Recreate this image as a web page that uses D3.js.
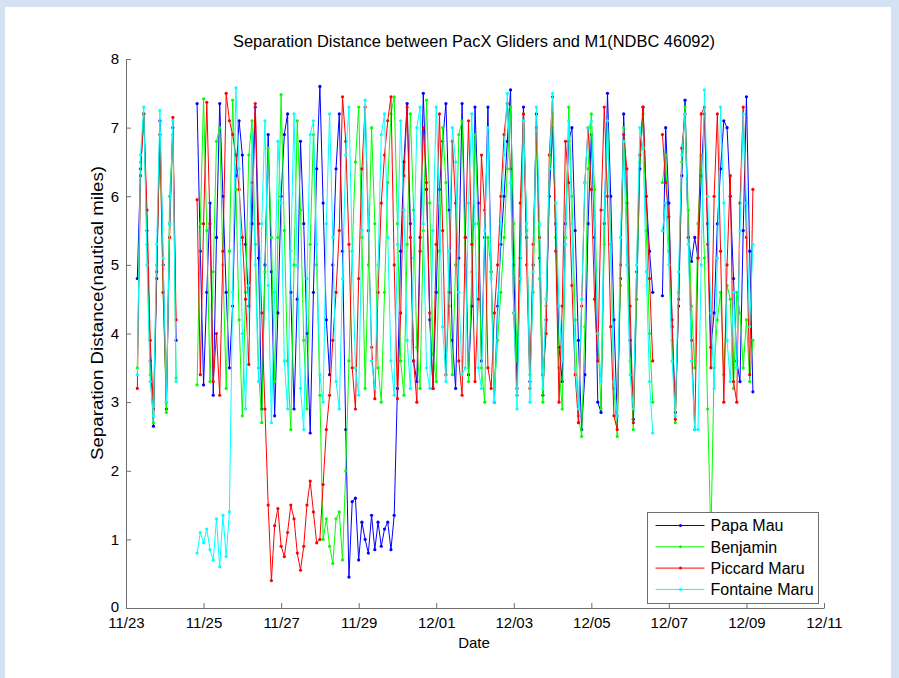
<!DOCTYPE html>
<html lang="en">
<head>
<meta charset="UTF-8" />
<title>Separation Distance between PacX Gliders and M1</title>
<style>
  body {
    margin: 0;
    background: #d4e2f4;
  }
  #chart {
    position: absolute;
    left: 0;
    top: 0;
  }
  text {
    font-family: Arial, 'Liberation Sans', Helvetica, sans-serif;
    fill: #000;
  }
  .axis path, .axis line {
    stroke: #6e6e6e;
  }
</style>
<script src="https://d3js.org/d3.v7.min.js"></script>
</head>
<body>
<div id="chart"></div>
<script>
  // Tick labels (every 2 days) and y ticks
  const dateTicks = ['11/23', '11/25', '11/27', '11/29', '12/01', '12/03', '12/05', '12/07', '12/09', '12/11'];
  const distTicks = [0, 1, 2, 3, 4, 5, 6, 7, 8];

  // Sampling: hours after 11/23 00:00, one reading every 2 hours
  const startA = 7, startB = 44, stepH = 2;

  const names  = ['Papa Mau', 'Benjamin', 'Piccard Maru', 'Fontaine Maru'];
  const colors = ['#0000ff', '#00ff00', '#ff0000', '#00ffff'];

  // first short run (11/23 - 11/24)
  const papaA     = [4.8, 6.4, 7.2, 5.5, 3.6, 2.65, 4.8, 7.1, 5.0, 2.9, 5.6, 7.0, 3.9];
  const benjaminA = [3.5, 6.5, 7.2, 5.3, 3.4, 2.7, 5.0, 6.9, 4.6, 2.85, 6.0, 6.9, 3.35];
  const piccardA  = [3.2, 6.3, 7.2, 5.8, 3.9, 2.9, 4.9, 6.9, 4.6, 3.0, 5.4, 7.15, 4.2];
  const fontaineA = [3.4, 6.6, 7.3, 5.0, 3.3, 2.8, 5.3, 7.25, 5.1, 3.0, 5.6, 7.1, 3.3];

  // main run (11/24 evening - 12/09)
  const papaB = [
    7.35, 5.2, 3.25, 4.6, 5.9, 3.1, 5.4, 7.35, 6.0, 4.6,
    3.5, 4.4, 6.3, 7.1, 6.6, 5.3, 4.4, 5.6, 7.3, 5.1,
    2.9, 5.0, 6.9, 4.9, 2.8, 4.3, 6.0, 6.9, 7.2, 4.6,
    2.9, 4.5, 6.8, 5.6, 4.0, 2.55, 4.6, 6.4, 7.6, 5.9,
    4.2, 3.4, 5.0, 6.4, 7.2, 5.2, 2.6, 0.45, 1.55, 1.6,
    0.7, 1.25, 1.0, 0.8, 1.35, 0.85, 1.25, 0.9, 1.15, 1.25,
    0.85, 1.35, 3.2, 5.2, 6.5, 7.35, 5.6, 3.6, 3.3, 5.4,
    7.5, 6.1, 4.2, 3.2, 4.6, 6.1, 6.8, 7.35, 5.8, 3.9,
    3.2, 5.1, 7.35, 5.4, 3.4, 4.4, 7.3, 5.9, 3.6, 5.4,
    7.3, 4.9, 3.0, 4.4, 5.3, 6.0, 6.8, 7.55, 5.0, 3.2,
    5.1, 7.3, 5.4, 3.3, 5.0, 7.2, 5.1, 3.1, 4.2, 6.0,
    7.0, 5.6, 3.8, 3.3, 5.6, 6.8, 7.0, 5.5, 3.9, 2.6,
    3.4, 5.6, 6.9, 5.4, 3.0, 2.85, 5.6, 7.5, 6.0, 4.2,
    2.8, 4.8, 7.2, 5.9, 3.9, 2.75, 4.5, 6.4, 7.3, 6.0,
    5.2, 4.6, null, null, 4.55, 7.0, 5.9, 4.1, 2.85, 4.4,
    6.3, 7.4, 5.4, 5.05, 5.4, 5.1, 6.3, 7.2, 5.6, 3.8,
    4.3, 5.6, 6.4, 7.1, 7.0, 6.0, 4.8, 3.6, 3.3, 5.5,
    7.45, 5.2, 3.15
  ];
  const benjaminB = [
    3.25, 5.6, 7.42, 5.5, 3.3, 4.9, 6.8, 7.0, 5.0, 3.2,
    5.2, 7.4, 6.1, 4.2, 2.8, 4.6, 6.6, 7.1, 5.3, 3.5,
    2.7, 4.9, 6.7, 5.4, 3.3, 5.4, 7.48, 5.5, 3.6, 2.6,
    5.0, 7.1, 5.8, 3.9, 2.9, 5.3, 6.9, 5.0, 3.1, 1.0,
    1.3, 0.9, 0.65, 1.3, 1.4, 0.7, 2.0, 3.6, 5.2, 6.5,
    7.3, 5.4, 3.2, 5.0, 7.0, 5.6, 3.5, 3.0, 4.6, 6.2,
    7.2, 7.45, 5.6, 3.6, 3.1, 5.3, 7.2, 5.8, 3.8, 3.2,
    5.5, 7.4, 5.9, 3.7, 3.3, 5.2, 7.0, 6.2, 4.4, 3.4,
    5.0, 6.9, 7.1, 5.0, 3.3, 4.9, 6.9, 5.6, 3.5, 3.0,
    5.4, 4.9, 3.2, 3.9, 4.6, 5.4, 6.4, 7.3, 5.6, 3.6,
    4.8, 7.2, 5.5, 3.4, 4.6, 6.9, 4.8, 3.0, 4.4, 6.2,
    7.2, 5.4, 3.5, 2.9, 5.4, 7.3, 6.0, 4.2, 2.8, 2.5,
    4.1, 6.4, 7.2, 6.1, 4.0, 2.9, 5.3, 7.1, 5.3, 3.2,
    2.5, 4.7, 7.0, 5.8, 3.6, 2.6, 4.5, 6.5, 7.2, 5.5,
    4.0, 3.0, null, null, 6.2, 6.6, 5.2, 3.9, 2.7, 4.6,
    6.5, 7.3, 5.8, 4.4, 3.5, 5.6, 6.6, 5.1, 2.9, 1.0,
    3.5, 4.2, 4.6, 3.4, 4.7, 4.5, 3.2, 4.6, 4.3, 3.5,
    4.2, 3.3, 3.9
  ];
  const piccardB = [
    5.95, 3.4, 5.6, 7.37, 5.6, 3.3, 4.0, 3.1, 5.2, 7.5,
    7.1, 6.9, 6.6, 6.1, 5.4, 4.5, 3.55, 6.2, 7.35, 5.6,
    4.3, 2.9, 1.5, 0.4, 1.2, 1.45, 0.9, 0.75, 1.1, 1.5,
    1.3, 0.8, 0.55, 0.9, 1.5, 1.85, 1.4, 0.95, 1.0, 1.8,
    2.6, 3.1, 3.9, 4.6, 5.5, 7.45, 6.8, 5.3, 3.5, 2.9,
    4.8, 6.4, 7.3, 5.5, 3.8, 3.05, 4.6, 5.9, 6.6, 7.1,
    7.45, 5.0, 3.05, 4.3, 6.3, 7.3, 5.4, 3.6, 3.0, 5.2,
    7.0, 6.2, 4.3, 3.2, 5.3, 7.2, 5.5, 3.4, 4.6, 6.8,
    5.9, 3.6, 3.1, 5.4, 7.1, 5.3, 3.3, 4.5, 6.6, 5.8,
    3.5, 3.2, 4.3, 5.0, 6.0, 6.9, 7.35, 6.4, 4.3, 3.1,
    5.9, 7.2, 5.0, 3.2, 5.3, 7.0, 5.4, 3.4, 4.0, 6.6,
    7.45, 5.2, 3.0, 4.4, 6.8, 6.2, 4.7, 3.4, 2.7, 4.4,
    6.2, 7.0, 6.1, 4.5, 3.6, 5.8, 7.3, 6.0, 4.1, 2.8,
    2.6, 5.0, 6.9, 6.4, 4.4, 2.7, 4.9, 6.6, 7.3, 6.0,
    4.8, 3.6, null, null, 6.9, 6.2, 5.7, 4.2, 2.75, 4.5,
    6.7, 7.2, 5.4, 3.9, 2.6, 5.1, 7.2, 7.3, 5.3, 3.5,
    6.0, 7.2, 5.2, 3.0, 5.0, 6.3, 3.3, 3.0, 5.9, 7.3,
    5.4, 3.4, 6.1
  ];
  const fontaineB = [
    0.8, 1.1, 0.95, 1.15, 0.85, 0.7, 1.3, 0.6, 1.35, 0.75,
    1.4, 4.6, 7.58, 6.4, 4.0, 2.9, 4.7, 6.9, 5.0, 3.3,
    5.6, 7.1, 4.7, 2.7, 4.6, 6.8, 5.9, 3.6, 2.9, 5.2,
    7.2, 5.0, 3.2, 2.6, 4.8, 6.9, 7.1, 5.3, 3.4, 3.0,
    5.6, 7.2, 5.4, 3.3, 2.9, 4.8, 6.6, 7.3, 5.2, 3.5,
    3.1, 5.5, 7.4, 5.7, 3.6, 3.2, 5.0, 6.9, 7.2, 5.4,
    3.6, 3.1, 5.3, 7.1, 5.8, 3.9, 3.2, 5.1, 7.0, 7.3,
    5.6, 3.5, 3.2, 5.5, 7.3, 5.9, 4.1, 3.3, 5.2, 7.0,
    6.5, 4.6, 3.4, 3.5, 5.9, 7.2, 5.6, 3.5, 3.2, 5.5,
    7.0, 4.8, 3.0, 4.2, 5.6, 6.6, 7.5, 6.2, 4.3, 2.9,
    4.8, 7.1, 5.6, 3.0, 4.9, 7.3, 5.6, 3.2, 4.5, 6.4,
    7.5, 5.9, 4.4, 3.6, 5.3, 7.1, 5.6, 3.5, 2.9, 4.5,
    6.2, 7.0, 7.1, 5.6, 4.0, 3.3, 5.8, 7.1, 5.2, 3.3,
    2.8, 5.4, 6.8, 5.0, 3.4, 2.9, 5.0, 7.0, 6.7, 4.9,
    3.3, 2.55, null, null, 5.5, 5.9, 5.0, 3.6, 2.8, 4.9,
    6.6, 7.2, 5.3, 3.6, 2.6, 2.6, 5.0, 7.55, 6.0, 4.3,
    3.2, 5.1, 7.3, 5.9, 3.9, 3.3, 4.6, 3.5, 5.5, 7.2,
    5.9, 4.1, 5.3
  ];

  const seriesA = [papaA, benjaminA, piccardA, fontaineA];
  const seriesB = [papaB, benjaminB, piccardB, fontaineB];

  const width = 899, height = 678;
  const parseTick = d3.timeParse('%Y/%m/%d');
  const t0 = parseTick('2011/' + dateTicks[0]);
  const tickDates = dateTicks.map(s => parseTick('2011/' + s));

  const svg = d3.select('#chart')
                .append('svg')
                .attr('width', width)
                .attr('height', height);

  // white figure panel
  svg.append('rect')
     .attr('x', 5).attr('y', 7)
     .attr('width', 886).attr('height', height - 7)
     .attr('fill', '#ffffff');

  const x = d3.scaleTime()
              .domain([tickDates[0], tickDates[tickDates.length - 1]])
              .range([126, 824]);
  const y = d3.scaleLinear()
              .domain([0, 8])
              .range([608, 59]);

  // turn a run of readings into points, null row between the two runs
  function toPoints(vals, startH) {
    return vals.map((v, i) => ({ t: d3.timeMinute.offset(t0, (startH + i * stepH) * 60), v: v }));
  }

  const data = names.map((name, k) => ({
    name: name,
    color: colors[k],
    points: toPoints(seriesA[k], startA)
              .concat([{ t: null, v: null }])
              .concat(toPoints(seriesB[k], startB))
  }));

  const line = d3.line()
                 .defined(d => d.v != null)
                 .x(d => x(d.t))
                 .y(d => y(d.v));

  const gLines = svg.append('g');
  data.forEach(s => {
    const g = gLines.append('g');
    g.append('path')
     .datum(s.points)
     .attr('fill', 'none')
     .attr('stroke', s.color)
     .attr('stroke-width', 1)
     .attr('d', line);
    g.selectAll('circle')
     .data(s.points.filter(d => d.v != null))
     .enter()
     .append('circle')
     .attr('cx', d => x(d.t))
     .attr('cy', d => y(d.v))
     .attr('r', 1.6)
     .attr('fill', s.color);
  });

  // axes, ticks pointing inward like MATLAB
  svg.append('g')
     .attr('class', 'axis')
     .attr('transform', 'translate(0,608)')
     .call(d3.axisBottom(x)
             .tickValues(tickDates)
             .tickFormat(d3.timeFormat('%m/%d'))
             .tickSizeInner(-5)
             .tickSizeOuter(0)
             .tickPadding(9))
     .call(g => g.selectAll('text').attr('font-size', 15).attr('fill', '#000'));

  svg.append('g')
     .attr('class', 'axis')
     .attr('transform', 'translate(126,0)')
     .call(d3.axisLeft(y)
             .tickValues(distTicks)
             .tickSizeInner(-5)
             .tickSizeOuter(0)
             .tickPadding(7))
     .call(g => g.selectAll('text').attr('font-size', 15).attr('fill', '#000'))
     .call(g => g.selectAll('.tick').filter(d => d === 0).select('text').attr('dy', '0.2em'));

  // titles
  svg.append('text')
     .attr('x', 474).attr('y', 47)
     .attr('text-anchor', 'middle')
     .attr('font-size', 16)
     .attr('textLength', 482)
     .attr('lengthAdjust', 'spacingAndGlyphs')
     .text('Separation Distance between PacX Gliders and M1(NDBC 46092)');

  svg.append('text')
     .attr('x', 474).attr('y', 648)
     .attr('text-anchor', 'middle')
     .attr('font-size', 15)
     .text('Date');

  svg.append('text')
     .attr('transform', 'translate(103,313) rotate(-90)')
     .attr('text-anchor', 'middle')
     .attr('font-size', 16)
     .attr('textLength', 294)
     .attr('lengthAdjust', 'spacingAndGlyphs')
     .text('Separation Distance(nautical miles)');

  // legend box sits on top of the lines
  const legend = svg.append('g').attr('transform', 'translate(647.5,512.5)');
  legend.append('rect')
        .attr('width', 171).attr('height', 91)
        .attr('fill', '#ffffff')
        .attr('stroke', '#6e6e6e');

  const item = legend.selectAll('.item')
                     .data(data)
                     .enter()
                     .append('g')
                     .attr('transform', (d, i) => `translate(0,${13 + i * 21.3})`);
  item.append('line')
      .attr('x1', 8).attr('x2', 57)
      .attr('stroke', d => d.color);
  item.append('circle')
      .attr('cx', 33).attr('r', 1.5)
      .attr('fill', d => d.color);
  item.append('text')
      .attr('x', 63).attr('dy', '0.36em')
      .attr('font-size', 16)
      .text(d => d.name);
</script>
</body>
</html>
